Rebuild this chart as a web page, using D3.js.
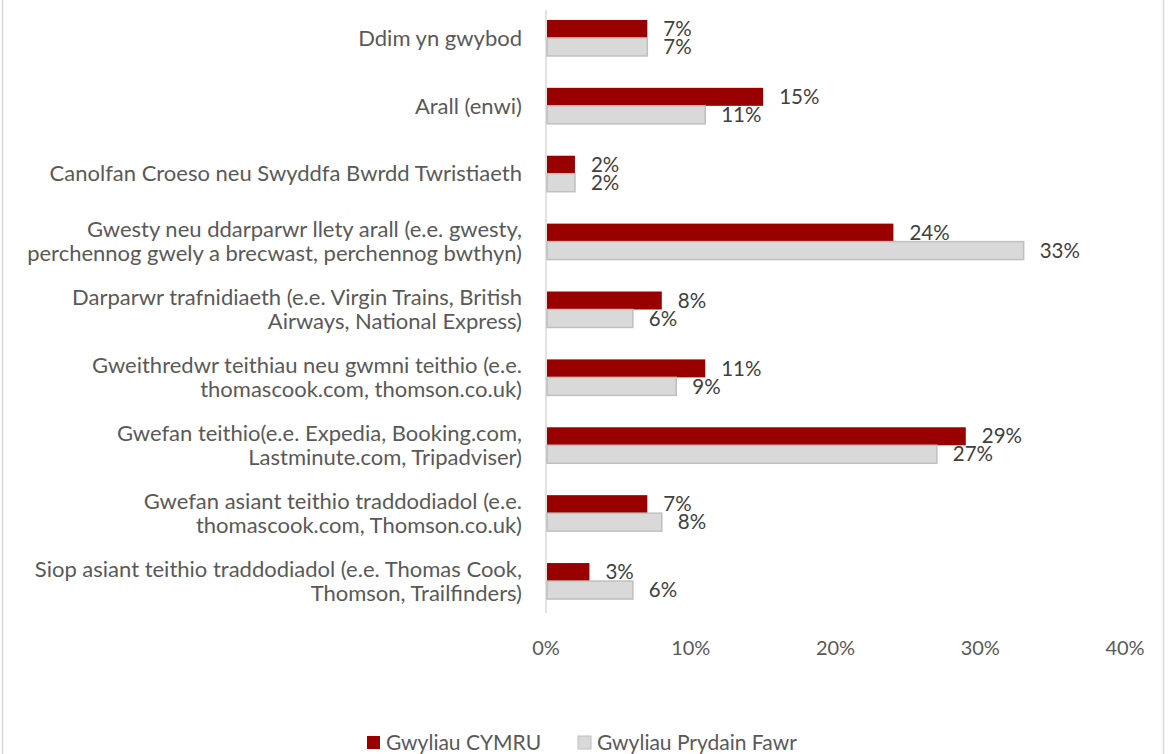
<!DOCTYPE html>
<html><head><meta charset="utf-8">
<script src="https://cdn.jsdelivr.net/npm/d3@7"></script>
<style>body{margin:0;background:#fff}svg{display:block}text{font-family:Lato,"Open Sans",sans-serif}</style>
</head><body>
<script>
const categories = [
  ["Ddim yn gwybod"],
  ["Arall (enwi)"],
  ["Canolfan Croeso neu Swyddfa Bwrdd Twristiaeth"],
  ["Gwesty neu ddarparwr llety arall (e.e. gwesty,", "perchennog gwely a brecwast, perchennog bwthyn)"],
  ["Darparwr trafnidiaeth (e.e. Virgin Trains, British", "Airways, National Express)"],
  ["Gweithredwr teithiau neu gwmni teithio (e.e.", "thomascook.com, thomson.co.uk)"],
  ["Gwefan teithio(e.e. Expedia, Booking.com,", "Lastminute.com, Tripadviser)"],
  ["Gwefan asiant teithio traddodiadol (e.e.", "thomascook.com, Thomson.co.uk)"],
  ["Siop asiant teithio traddodiadol (e.e. Thomas Cook,", "Thomson, Trailfinders)"]
];
const seriesNames = ["Gwyliau CYMRU", "Gwyliau Prydain Fawr"];
const cymru = [7, 15, 2, 24, 8, 11, 29, 7, 3];
const prydain = [7, 11, 2, 33, 6, 9, 27, 8, 6];
const ticks = [0, 10, 20, 30, 40];

const W = 1173, H = 754;
const svg = d3.select("body").append("svg").attr("width", W).attr("height", H);
const colors = ["#990000", "#d9d9d9"];
const strokes = ["#990000", "#bfbfbf"];

svg.append("rect").attr("x", 2.5).attr("y", -5).attr("width", 1161).attr("height", H + 10)
  .attr("fill", "#fff").attr("stroke", "#d9d9d9").attr("stroke-width", 1.5);

const x = d3.scaleLinear().domain([0, 40]).range([546, 1125]);
const y = d3.scaleBand().domain(d3.range(categories.length)).range([4, 615]);
const inner = d3.scaleBand().domain([0, 1]).range([0, 36]);
const off = (y.bandwidth() - 36) / 2;

svg.append("line").attr("x1", x(0)).attr("x2", x(0)).attr("y1", 10).attr("y2", 613)
  .attr("stroke", "#d9d9d9").attr("stroke-width", 1.5);

const series = [cymru, prydain];
series.forEach((vals, s) => {
  const g = svg.append("g");
  g.selectAll("rect").data(vals).join("rect")
    .attr("x", x(0) + 1)
    .attr("y", (d, i) => y(i) + off + inner(s))
    .attr("width", d => x(d) - x(0) - 1)
    .attr("height", inner.bandwidth())
    .attr("fill", colors[s]).attr("stroke", strokes[s]).attr("stroke-width", s ? 1.5 : 0);
  g.selectAll("text").data(vals).join("text")
    .attr("x", d => x(d) + 16)
    .attr("y", (d, i) => y(i) + off + inner(s) + inner.bandwidth() / 2)
    .attr("dy", "0.35em")
    .attr("font-size", 20.5).attr("fill", "#404040")
    .text(d => d + "%");
});

categories.forEach((lines, i) => {
  const cy = y(i) + y.bandwidth() / 2;
  const t = svg.append("text").attr("x", 522).attr("text-anchor", "end")
    .attr("font-size", 22).attr("fill", "#595959");
  lines.forEach((l, k) => {
    t.append("tspan").attr("x", 522)
      .attr("y", cy + (k - (lines.length - 1) / 2) * 24)
      .attr("dy", "0.35em").text(l);
  });
});

svg.append("g").selectAll("text").data(ticks).join("text")
  .attr("x", d => x(d)).attr("y", 648).attr("dy", "0.35em")
  .attr("text-anchor", "middle").attr("font-size", 20).attr("fill", "#595959")
  .text(d => d + "%");

const legX = [367, 578];
seriesNames.forEach((n, s) => {
  svg.append("rect").attr("x", legX[s]).attr("y", 736).attr("width", 13).attr("height", 13)
    .attr("fill", colors[s]).attr("stroke", strokes[s]).attr("stroke-width", s ? 1 : 0);
  svg.append("text").attr("x", legX[s] + 19).attr("y", 743).attr("dy", "0.35em")
    .attr("font-size", 21).attr("fill", "#595959").text(n);
});
</script>
</body></html>
